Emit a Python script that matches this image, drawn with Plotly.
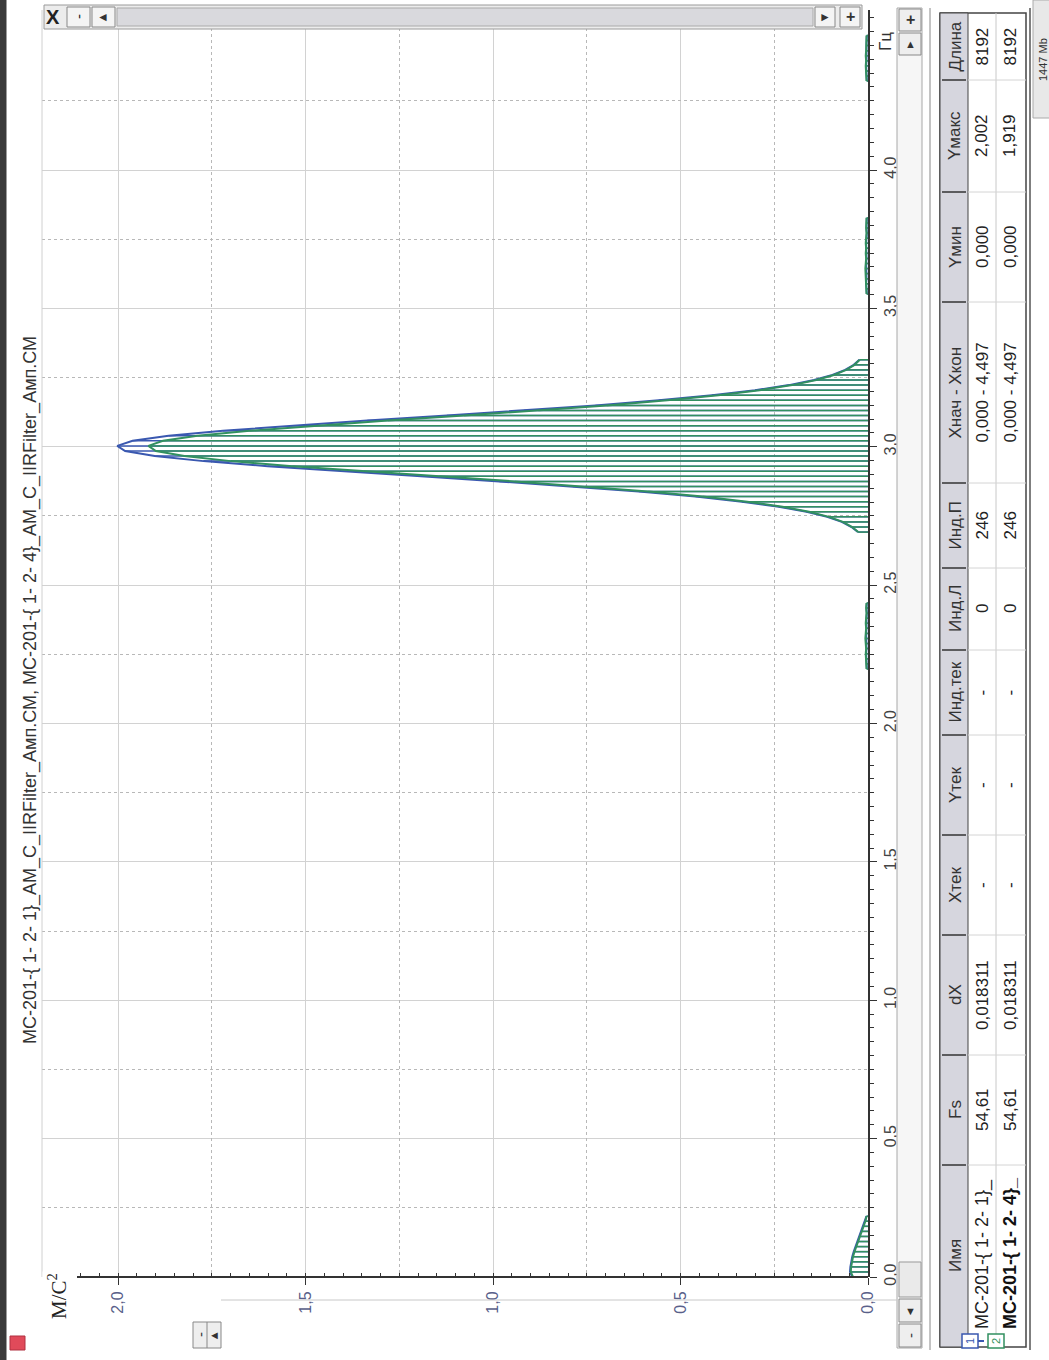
import plotly.graph_objects as go

# ---------------- data ----------------
DX = 0.018311  # frequency step, Hz

# series 1: MC-201-{ 1- 2- 1}_  (blue), series 2: MC-201-{ 1- 2- 4}_ (green)
low_start = 0
low_s1 = [0.042, 0.048, 0.047, 0.045, 0.042, 0.038, 0.033, 0.027, 0.022, 0.017, 0.012, 0.008, 0.004]
low_s2 = [0.040, 0.046, 0.045, 0.043, 0.040, 0.036, 0.031, 0.026, 0.021, 0.016, 0.011, 0.007, 0.004]

band_a_start = 120
band_a_s1 = [0.003, 0.004, 0.005, 0.005, 0.004, 0.005, 0.006, 0.005, 0.004, 0.005, 0.004, 0.003, 0.004, 0.003]
band_a_s2 = [0.004, 0.005, 0.006, 0.006, 0.005, 0.006, 0.007, 0.006, 0.005, 0.006, 0.005, 0.004, 0.005, 0.004]

peak_start = 147
peak_s1 = [0.027, 0.044, 0.070, 0.109, 0.164, 0.238, 0.336, 0.460, 0.611, 0.787,
           0.983, 1.192, 1.402, 1.601, 1.772, 1.902, 1.981, 2.002, 1.961, 1.865,
           1.720, 1.539, 1.335, 1.123, 0.917, 0.727, 0.558, 0.416, 0.301, 0.211,
           0.144, 0.095, 0.061, 0.038, 0.023]
peak_s2 = [0.026, 0.042, 0.067, 0.104, 0.157, 0.228, 0.322, 0.441, 0.586, 0.754,
           0.942, 1.143, 1.344, 1.535, 1.699, 1.823, 1.899, 1.919, 1.880, 1.788,
           1.649, 1.475, 1.280, 1.077, 0.879, 0.697, 0.535, 0.399, 0.289, 0.202,
           0.138, 0.091, 0.058, 0.036, 0.022]

band_b_start = 194
band_b_s1 = [0.003, 0.004, 0.005, 0.004, 0.005, 0.006, 0.005, 0.004, 0.005, 0.004, 0.005, 0.004, 0.003, 0.004, 0.003, 0.003]
band_b_s2 = [0.004, 0.005, 0.006, 0.005, 0.006, 0.007, 0.006, 0.005, 0.006, 0.005, 0.006, 0.005, 0.004, 0.005, 0.004, 0.004]

band_c_start = 236
band_c_s1 = [0.003, 0.004, 0.004, 0.005, 0.004, 0.005, 0.004, 0.004, 0.003, 0.003]
band_c_s2 = [0.004, 0.005, 0.005, 0.006, 0.005, 0.006, 0.005, 0.005, 0.004, 0.004]

amp_ticks = [0.0, 0.5, 1.0, 1.5, 2.0]
freq_ticks = [0.0, 0.5, 1.0, 1.5, 2.0, 2.5, 3.0, 3.5, 4.0]

title_text = "MC-201-{ 1- 2- 1}_AM_C_IIRFilter_Амп.СМ, MC-201-{ 1- 2- 4}_AM_C_IIRFilter_Амп.СМ"

table_headers = ["Имя", "Fs", "dX", "Xтек", "Yтек", "Инд.тек", "Инд.Л", "Инд.П",
                 "Xнач - Xкон", "Yмин", "Yмакс", "Длина"]
table_row1 = ["MC-201-{ 1- 2- 1}_", "54,61", "0,018311", "-", "-", "-", "0", "246",
              "0,000 - 4,497", "0,000", "2,002", "8192"]
table_row2 = ["<b>MC-201-{ 1- 2- 4}_</b>", "54,61", "0,018311", "-", "-", "-", "0", "246",
              "0,000 - 4,497", "0,000", "1,919", "8192"]

# ---------------- geometry helpers (layout only) ----------------
W, H = 1049, 1360
PL, PR, PT, PB = 42, 868, 10, 1277   # plot area in pixels
AMP_PER_PX = 1 / 375.0
FREQ_PER_PX = 1 / 276.75
AMP_MAX = (PR - PL) * AMP_PER_PX
FREQ_MAX = (PB - PT) * FREQ_PER_PX


def px(x):
    return (x - PL) / (PR - PL)


def py(y):
    return (PB - y) / (PB - PT)


BLUE = "#3a58b0"
GREEN = "#329060"

segments_s1 = [(low_start, low_s1), (band_a_start, band_a_s1), (peak_start, peak_s1),
               (band_b_start, band_b_s1), (band_c_start, band_c_s1)]
segments_s2 = [(low_start, low_s2), (band_a_start, band_a_s2), (peak_start, peak_s2),
               (band_b_start, band_b_s2), (band_c_start, band_c_s2)]


def stems(segments):
    xs, ys, ox, oy = [], [], [], []
    for start, vals in segments:
        for i, v in enumerate(vals):
            f = (start + i) * DX
            xs += [0, v, None]
            ys += [f, f, None]
            ox.append(v)
            oy.append(f)
        ox.append(None)
        oy.append(None)
    return xs, ys, ox, oy


fig = go.Figure()
for segs, col in [(segments_s1, BLUE), (segments_s2, GREEN)]:
    xs, ys, ox, oy = stems(segs)
    fig.add_trace(go.Scatter(x=xs, y=ys, mode="lines", line=dict(color=col, width=1.5),
                             hoverinfo="skip"))
    fig.add_trace(go.Scatter(x=ox, y=oy, mode="lines", line=dict(color=col, width=2),
                             hoverinfo="skip"))

# invisible trace to create overlay axes for dotted minor grid
fig.add_trace(go.Scatter(x=[0], y=[0], xaxis="x2", yaxis="y2", mode="markers",
                         marker=dict(opacity=0), hoverinfo="skip"))

fig.update_layout(
    width=W, height=H,
    margin=dict(l=PL, r=W - PR, t=PT, b=H - PB),
    plot_bgcolor="white", paper_bgcolor="white",
    showlegend=False,
    separators=", ",
    font=dict(family="Liberation Sans, Arial, sans-serif", size=13, color="#333"),
    xaxis=dict(range=[AMP_MAX, 0], tickvals=amp_ticks, tickformat=".1f", tickangle=-90,
               showgrid=True, gridcolor="#d2d2d2", gridwidth=1, zeroline=False,
               showline=False,
               ticks="outside", ticklen=7, tickcolor="#333", tickwidth=1,
               minor=dict(dtick=0.05, tick0=0, ticks="inside", ticklen=4, tickcolor="#333",
                          showgrid=False),
               tickfont=dict(size=16, color="#59608a")),
    yaxis=dict(range=[0, FREQ_MAX], tickvals=freq_ticks, tickformat=".1f", tickangle=-90,
               side="right",
               showgrid=True, gridcolor="#d2d2d2", gridwidth=1, zeroline=False,
               showline=True, linecolor="#333", linewidth=2,
               ticks="outside", ticklen=7, tickcolor="#333", tickwidth=1,
               minor=dict(dtick=0.05, tick0=0, ticks="outside", ticklen=4, tickcolor="#333",
                          showgrid=False),
               tickfont=dict(size=16, color="#444")),
    xaxis2=dict(overlaying="x", range=[AMP_MAX, 0], tick0=0.25, dtick=0.5, showgrid=True,
                griddash="dot", gridcolor="#b8b8b8", showticklabels=False, ticks="",
                showline=False, zeroline=False, side="top"),
    yaxis2=dict(overlaying="y", range=[0, FREQ_MAX], tick0=0.25, dtick=0.5, showgrid=True,
                griddash="dot", gridcolor="#b8b8b8", showticklabels=False, ticks="",
                showline=False, zeroline=False, side="left"),
)

shapes = []
ann = []


def rect(x0, y0, x1, y1, fill="rgba(0,0,0,0)", line="#999", lw=1):
    shapes.append(dict(type="rect", xref="paper", yref="paper",
                       x0=px(x0), x1=px(x1), y0=py(y1), y1=py(y0),
                       fillcolor=fill, line=dict(color=line, width=lw), layer="above"))


def line(x0, y0, x1, y1, col="#999", lw=1):
    shapes.append(dict(type="line", xref="paper", yref="paper",
                       x0=px(x0), x1=px(x1), y0=py(y0), y1=py(y1),
                       line=dict(color=col, width=lw), layer="above"))


def text(x, y, t, size=13, col="#333", angle=-90, xa="center", ya="middle", fam=None,
         bg=None):
    d = dict(xref="paper", yref="paper", x=px(x), y=py(y), text=t, showarrow=False,
             textangle=angle, xanchor=xa, yanchor=ya,
             font=dict(size=size, color=col))
    if fam:
        d["font"]["family"] = fam
    if bg:
        d["bgcolor"] = bg
    ann.append(d)


# left plot border
line(PL, PT, PL, PB, "#d0d0d0", 1)
# amplitude axis line (starts right of the unit label, as in the source)
line(77, PB, PR, PB, "#333", 2)
# dark window border at far left
rect(0, 0, 6, H, fill="#3a3a3a", line="#3a3a3a")
# red icon
rect(10, 1336, 25, 1350, fill="#e04a5a", line="#b03040")

# title, axis labels
text(30, 690, title_text, size=18, col="#333")
text(57, 1296, "M/C<sup>2</sup>", size=21, col="#222", fam="Liberation Serif, serif",
     bg="white")
text(886, 42, "Гц", size=17, col="#333")

# top scrollbar (rotated vertical scrollbar)
rect(44, 5, 862, 29, fill="#ececec", line="#9a9a9a")
text(53, 17, "<b>X</b>", size=20, col="#222", angle=0)
rect(67, 7, 90, 27, fill="#f4f4f4", line="#888")
text(79, 17, "-", size=15, col="#222")
rect(92, 7, 115, 27, fill="#f4f4f4", line="#888")
text(103, 17, "◄", size=12, col="#333", angle=0)
rect(117, 8, 813, 26, fill="#d9d9dd", line="#aaa")
rect(815, 7, 835, 27, fill="#f4f4f4", line="#888")
text(825, 17, "►", size=12, col="#333", angle=0)
rect(840, 7, 860, 27, fill="#f4f4f4", line="#888")
text(850, 17, "<b>+</b>", size=16, col="#333", angle=0)

# right scrollbar (rotated horizontal scrollbar)
rect(897, 8, 922, 1348, fill="#f6f6f6", line="#a8a8a8")
rect(899, 9, 921, 31, fill="#eeeeee", line="#888")
text(910, 20, "<b>+</b>", size=16, col="#333", angle=0)
rect(899, 33, 921, 55, fill="#eeeeee", line="#888")
text(910, 44, "▲", size=11, col="#333", angle=0)
rect(899, 1262, 921, 1297, fill="#eaeaea", line="#999")
rect(899, 1299, 921, 1322, fill="#eeeeee", line="#888")
text(910, 1311, "▼", size=11, col="#333", angle=0)
rect(899, 1324, 921, 1347, fill="#eeeeee", line="#888")
text(910, 1336, "-", size=15, col="#333")

# bottom-left buttons
rect(193, 1322, 221, 1348, fill="#eeeeee", line="#888")
line(207, 1322, 207, 1348, "#888")
text(200, 1335, "-", size=15, col="#333")
text(214, 1335, "◄", size=11, col="#333", angle=0)
line(221, 1300, 897, 1300, "#c8c8c8")

# memory indicator fragment
rect(1033, 0, 1052, 118, fill="#e8e8e8", line="#aaa")
text(1043, 60, "1447 Mb", size=11, col="#333")

# ---------------- table ----------------
TX0, TXH, TX1, TX2 = 940, 968, 996, 1026
col_edges = [1347, 1165, 1055, 935, 835, 735, 650, 568, 483, 302, 192, 80, 13]
line(930, 8, 930, 1350, "#888", 1)
rect(TX0, 13, TX2, 1347, fill="white", line="#444", lw=1.5)
line(1030, 8, 1030, 1350, "#555", 1.5)
rect(TX0, 13, TXH, 1347, fill="#d6d6de", line="#444", lw=1)
line(TX1, 13, TX1, 1347, "#c8c8c8", 1)
for e in col_edges[1:-1]:
    line(TX0 + 2, e, TXH - 2, e, "#333", 1.5)
    line(TXH, e, TX2, e, "#d4d4d4", 1)

for i, hdr in enumerate(table_headers):
    yc = (col_edges[i] + col_edges[i + 1]) / 2
    text(955, yc, hdr, size=17, col="#333")
    if i == 0:
        text(982, 1331, table_row1[i], size=18, col="#222", ya="bottom")
        text(1010, 1331, table_row2[i], size=18, col="#111", ya="bottom")
    else:
        text(982, yc, table_row1[i], size=17, col="#222")
        text(1010, yc, table_row2[i], size=17, col="#222")

# legend markers in the name column
rect(962, 1334, 978, 1348, fill="white", line=BLUE, lw=1.5)
text(970, 1341, "1", size=11, col=BLUE)
line(978, 1341, 984, 1341, BLUE, 2)
rect(988, 1334, 1004, 1348, fill="white", line=GREEN, lw=1.5)
text(996, 1341, "2", size=11, col=GREEN)

fig.update_layout(shapes=shapes, annotations=ann)
fig.write_html("out.html", config={"displayModeBar": False},
               post_script="document.body.style.margin='0';document.body.style.overflow='hidden';")
